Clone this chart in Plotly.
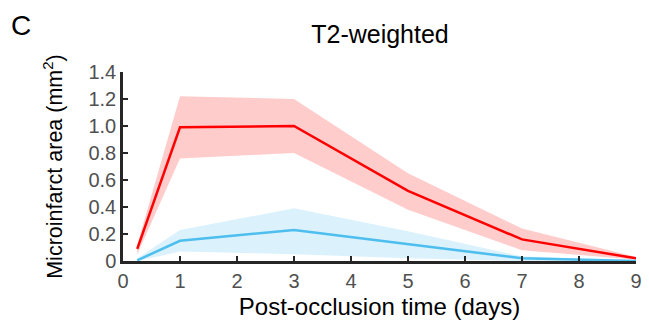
import plotly.graph_objects as go

days = [0.25, 1, 3, 5, 7, 9]
red_mean = [0.09, 0.99, 1.00, 0.52, 0.16, 0.02]
red_upper = [0.12, 1.22, 1.20, 0.65, 0.24, 0.03]
red_lower = [0.05, 0.76, 0.80, 0.38, 0.08, 0.01]
blue_mean = [0.005, 0.15, 0.23, 0.125, 0.02, 0.0]
blue_upper = [0.02, 0.23, 0.39, 0.22, 0.035, 0.005]
blue_lower = [0.0, 0.07, 0.05, 0.02, 0.0, 0.0]

xticks = [0, 1, 2, 3, 4, 5, 6, 7, 8, 9]
yticks = [0, 0.2, 0.4, 0.6, 0.8, 1.0, 1.2, 1.4]
ytick_labels = ["0", "0.2", "0.4", "0.6", "0.8", "1.0", "1.2", "1.4"]

RED = "#FF0000"
BLUE = "#4DBEEE"

fig = go.Figure()

def band(upper, lower, color):
    fig.add_trace(go.Scatter(x=days + days[::-1], y=upper + lower[::-1],
                             fill="toself", fillcolor=color, line=dict(width=0),
                             mode="lines", hoverinfo="skip", showlegend=False))

band(red_upper, red_lower, "rgba(255,0,0,0.2)")
band(blue_upper, blue_lower, "rgba(77,190,238,0.2)")
fig.add_trace(go.Scatter(x=days, y=red_mean, mode="lines",
                         line=dict(color=RED, width=2.5), showlegend=False))
fig.add_trace(go.Scatter(x=days, y=blue_mean, mode="lines",
                         line=dict(color=BLUE, width=2.5), showlegend=False))

font = "Liberation Sans, Arial, sans-serif"
fig.update_layout(
    width=649, height=324,
    margin=dict(l=123, r=7, t=72, b=63),
    paper_bgcolor="white", plot_bgcolor="white",
    font=dict(family=font, color="#000"),
    title=dict(text="T2-weighted", x=(307 + 453) / 2 / 649, xanchor="center",
               y=1 - 34 / 324, yanchor="middle", font=dict(size=25, color="#000")),
    xaxis=dict(range=[0, 9], tickvals=xticks, ticks="inside", ticklen=5,
               tickwidth=2, tickcolor="#262626", showline=True, linewidth=2.5,
               linecolor="#262626", showgrid=False, zeroline=False,
               tickfont=dict(size=20, color="#505050"),
               title=dict(text="Post-occlusion time (days)", font=dict(size=24, color="#000"),
                          standoff=8)),
    yaxis=dict(range=[0, 1.4], tickvals=yticks, ticktext=ytick_labels, ticks="inside",
               ticklen=5, tickwidth=2, tickcolor="#262626", showline=True, linewidth=2.5,
               linecolor="#262626", showgrid=False, zeroline=False,
               tickfont=dict(size=20, color="#505050"),
               title=dict(text="Microinfarct area (mm<sup>2</sup>)",
                          font=dict(size=21.5, color="#000"), standoff=20)),
)
fig.add_annotation(text="C", xref="paper", yref="paper", x=-(123 - 8) / 519,
                   y=1 + (72 - 25) / 189, xanchor="left", yanchor="middle",
                   showarrow=False, font=dict(size=28, color="#000"))

fig.write_html("out.html")
